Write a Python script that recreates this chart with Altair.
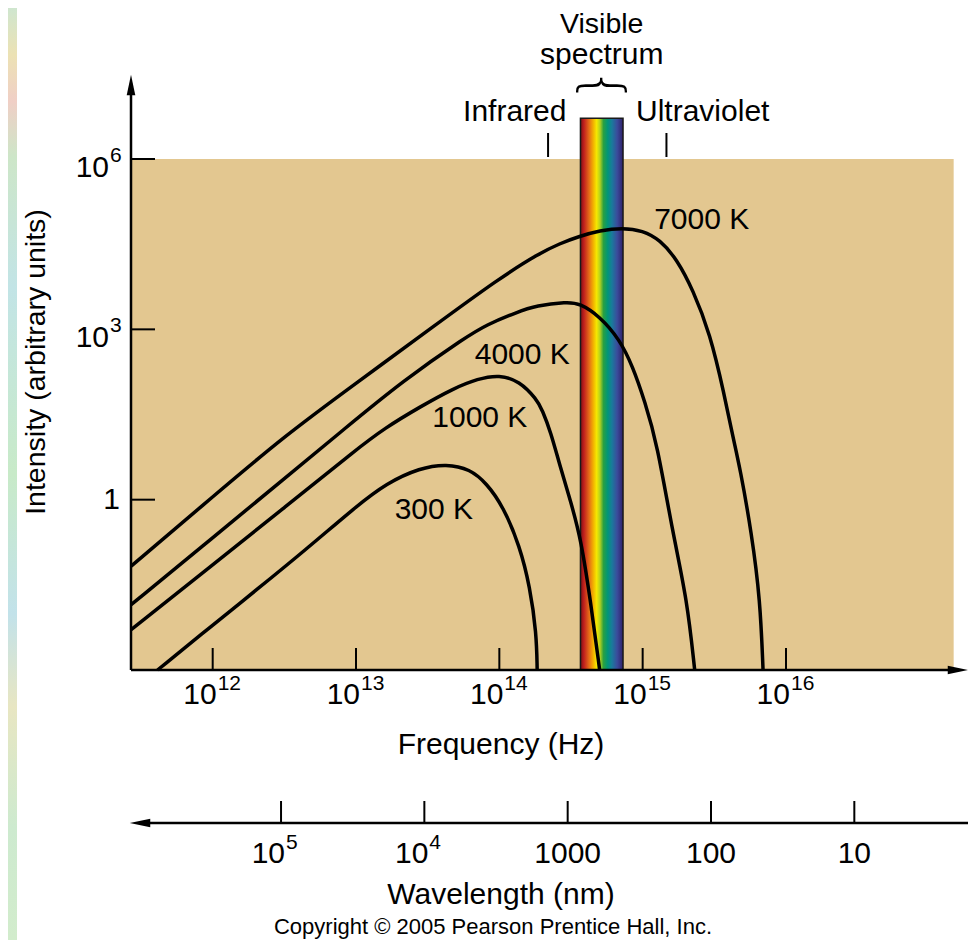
import altair as alt
import pandas as pd

# ---------------- data (log10 values) ----------------
# frequency exponent (log10 Hz) and intensity exponent (log10 arbitrary units)
t300_logf = [11.615, 12.0, 12.3, 12.65, 13.0, 13.213, 13.446, 13.632, 13.794, 13.911, 14.027, 14.143, 14.213, 14.259, 14.264]
t300_logI = [-3.0, -2.21, -1.60, -0.88, -0.12, 0.29, 0.56, 0.63, 0.54, 0.29, -0.12, -0.82, -1.53, -2.35, -3.0]

t1000_logf = [11.431, 12.0, 12.5, 13.0, 13.2, 13.45, 13.68, 13.85, 14.0, 14.14, 14.26, 14.30, 14.36, 14.42, 14.5, 14.57, 14.64, 14.70]
t1000_logI = [-2.29, -1.15, -0.14, 0.88, 1.26, 1.64, 1.96, 2.13, 2.20, 2.09, 1.77, 1.58, 1.18, 0.62, -0.05, -0.70, -1.85, -3.0]

t4000_logf = [11.431, 12.0, 12.5, 12.911, 13.33, 13.77, 13.91, 14.12, 14.26, 14.47, 14.56, 14.70, 14.84, 14.93, 15.015, 15.1, 15.21, 15.31, 15.363]
t4000_logI = [-1.85, -0.67, 0.37, 1.23, 2.10, 2.87, 3.08, 3.30, 3.42, 3.48, 3.46, 3.23, 2.82, 2.35, 1.73, 1.0, -0.59, -1.76, -3.0]

t7000_logf = [11.431, 12.0, 12.5, 13.0, 13.54, 14.0, 14.28, 14.42, 14.56, 14.70, 14.86, 15.0, 15.12, 15.24, 15.35, 15.47, 15.57, 15.63, 15.68, 15.76, 15.82, 15.84]
t7000_logI = [-1.17, 0.05, 1.12, 2.05, 3.05, 3.90, 4.34, 4.51, 4.64, 4.74, 4.79, 4.74, 4.58, 4.23, 3.70, 2.93, 1.85, 1.10, 0.55, -0.59, -1.76, -3.0]

curve_names = ["300 K", "1000 K", "4000 K", "7000 K"]
label_logf = [13.543, 13.864, 14.16, 15.412]
label_logI = [-0.176, 1.444, 2.553, 4.93]

freq_tick_exp = [12, 13, 14, 15, 16]
int_tick_exp = [6, 3]
wavelength_nm = [1e5, 1e4, 1000, 100, 10]
wavelength_base = ["10", "10"]
wavelength_sup = ["5", "4"]
wavelength_plain = ["1000", "100", "10"]

visible_logf = [14.566, 14.863]     # visible band edges
visible_top_logI = 6.72
ir_uv_logf = [14.34, 15.166]        # infrared / ultraviolet marker ticks

X_DOM_LOG = [11.43, 17.27]
Y_DOM_LOG = [-3.0, 7.48]
TAN_RIGHT_LOG = 17.17
C_NM = 2.998e17

# ---------------- styling ----------------
FONT = "Liberation Sans"
TAN = "#e3c790"
W, H = 837, 595

xs = alt.Scale(type="log", domain=[10 ** X_DOM_LOG[0], 10 ** X_DOM_LOG[1]], nice=False)
ys = alt.Scale(type="log", domain=[10 ** Y_DOM_LOG[0], 10 ** Y_DOM_LOG[1]], nice=False)


def X(field):
    return alt.X(field, type="quantitative", scale=xs, axis=None)


def Y(field):
    return alt.Y(field, type="quantitative", scale=ys, axis=None)


one = pd.DataFrame({"a": [0]})

# ---------------- frames ----------------
rows = []
for name, lf, li in [("300 K", t300_logf, t300_logI), ("1000 K", t1000_logf, t1000_logI),
                     ("4000 K", t4000_logf, t4000_logI), ("7000 K", t7000_logf, t7000_logI)]:
    for a, b in zip(lf, li):
        rows.append({"T": name, "f": 10 ** a, "I": 10 ** b})
curves_df = pd.DataFrame(rows)

labels_df = pd.DataFrame({"T": curve_names, "f": [10 ** v for v in label_logf], "I": [10 ** v for v in label_logI]})

tan_df = pd.DataFrame({"x0": [10 ** X_DOM_LOG[0]], "x1": [10 ** TAN_RIGHT_LOG], "y0": [1e-3], "y1": [1e6]})
band_df = pd.DataFrame({"x0": [10 ** visible_logf[0]], "x1": [10 ** visible_logf[1]],
                        "y0": [1e-3], "y1": [10 ** visible_top_logI],
                        "xm": [10 ** ((visible_logf[0] + visible_logf[1]) / 2)]})

fticks = pd.DataFrame({"f": [10.0 ** e for e in freq_tick_exp], "base": ["10"] * len(freq_tick_exp),
                       "sup": [str(e) for e in freq_tick_exp]})
iticks = pd.DataFrame({"I": [10.0 ** e for e in int_tick_exp], "base": ["10"] * len(int_tick_exp),
                       "sup": [str(e) for e in int_tick_exp]})
iticks_all = pd.DataFrame({"I": [10.0 ** e for e in int_tick_exp] + [1.0]})
one_lab = pd.DataFrame({"I": [1.0], "t": ["1"]})

wl_df = pd.DataFrame({"lam": wavelength_nm, "f": [C_NM / v for v in wavelength_nm]})
wl_exp = pd.DataFrame({"f": [C_NM / v for v in wavelength_nm[:2]], "base": wavelength_base, "sup": wavelength_sup})
wl_plain = pd.DataFrame({"f": [C_NM / v for v in wavelength_nm[2:]], "t": wavelength_plain})

iruv = pd.DataFrame({"f": [10 ** v for v in ir_uv_logf]})
ir_lab = pd.DataFrame({"f": [10 ** visible_logf[0]], "I": [10 ** 6.83], "t": ["Infrared"]})
uv_lab = pd.DataFrame({"f": [10 ** visible_logf[1]], "I": [10 ** 6.83], "t": ["Ultraviolet"]})

# ---------------- layers ----------------
strip_grad = {"gradient": "linear", "x1": 0, "x2": 0, "y1": 0, "y2": 1,
              "stops": [{"offset": 0, "color": "#cfe6cf"}, {"offset": 0.05, "color": "#ece2b4"},
                        {"offset": 0.1, "color": "#f0cfc6"}, {"offset": 0.16, "color": "#cde6c8"},
                        {"offset": 0.3, "color": "#c2e4e6"}, {"offset": 0.5, "color": "#c8eac8"},
                        {"offset": 0.65, "color": "#c2e2ea"}, {"offset": 0.75, "color": "#e8e6c2"},
                        {"offset": 0.88, "color": "#cdeacf"}, {"offset": 1, "color": "#d2eccc"}]}
strip = alt.Chart(one).mark_rect(color=strip_grad).encode(
    x=alt.value(-123), x2=alt.value(-114), y=alt.value(-67), y2=alt.value(H + 270))

tan = alt.Chart(tan_df).mark_rect(color=TAN).encode(x=X("x0"), x2="x1", y=Y("y0"), y2="y1")

rainbow = {"gradient": "linear", "x1": 0, "x2": 1, "y1": 0, "y2": 0,
           "stops": [{"offset": 0, "color": "#7a1212"}, {"offset": 0.08, "color": "#c01e1e"},
                     {"offset": 0.2, "color": "#e46a18"}, {"offset": 0.3, "color": "#f2b000"},
                     {"offset": 0.38, "color": "#f5e800"}, {"offset": 0.46, "color": "#b0d020"},
                     {"offset": 0.54, "color": "#2aa040"}, {"offset": 0.64, "color": "#009678"},
                     {"offset": 0.74, "color": "#1a7a9c"}, {"offset": 0.86, "color": "#3a4c9c"},
                     {"offset": 1, "color": "#30206a"}]}
band = alt.Chart(band_df).mark_rect(color=rainbow, stroke="#1a1a1a", strokeWidth=1.5).encode(
    x=X("x0"), x2="x1", y=Y("y0"), y2="y1")

curves = alt.Chart(curves_df).mark_line(color="black", strokeWidth=3.5, interpolate="basis").encode(
    x=X("f"), y=Y("I"), detail="T:N", order="f:Q")

curve_labels = alt.Chart(labels_df).mark_text(font=FONT, fontSize=30, color="black",
                                              align="center", baseline="middle").encode(
    x=X("f"), y=Y("I"), text="T:N")

# axes
y_axis = alt.Chart(one).mark_rule(color="black", strokeWidth=2.5).encode(
    x=alt.value(0), y=alt.value(14), y2=alt.value(H))
x_axis = alt.Chart(one).mark_rule(color="black", strokeWidth=2.5).encode(
    x=alt.value(0), x2=alt.value(W - 14), y=alt.value(H))
up_arrow = alt.Chart(one).mark_point(shape="M0,-1L0.42,1L-0.42,1Z", filled=True, size=420,
                                     color="black", opacity=1, strokeWidth=0).encode(
    x=alt.value(0), y=alt.value(10))
right_arrow = alt.Chart(one).mark_point(shape="M1,0L-1,-0.42L-1,0.42Z", filled=True, size=420,
                                        color="black", opacity=1, strokeWidth=0).encode(
    x=alt.value(W - 10), y=alt.value(H))

x_ticks = alt.Chart(fticks).mark_rule(color="black", strokeWidth=2).encode(
    x=X("f"), y=alt.value(H - 22), y2=alt.value(H))
x_base = alt.Chart(fticks).mark_text(font=FONT, fontSize=30, align="right", baseline="middle", dx=4,
                                     color="black").encode(x=X("f"), y=alt.value(H + 25), text="base:N")
x_sup = alt.Chart(fticks).mark_text(font=FONT, fontSize=21, align="left", baseline="middle", dx=5,
                                    color="black").encode(x=X("f"), y=alt.value(H + 14), text="sup:N")

y_ticks = alt.Chart(iticks_all).mark_rule(color="black", strokeWidth=2).encode(
    y=Y("I"), x=alt.value(0), x2=alt.value(24))
y_base = alt.Chart(iticks).mark_text(font=FONT, fontSize=30, align="right", baseline="middle", dy=9,
                                     color="black").encode(y=Y("I"), x=alt.value(-22), text="base:N")
y_sup = alt.Chart(iticks).mark_text(font=FONT, fontSize=21, align="left", baseline="middle", dy=-3,
                                    color="black").encode(y=Y("I"), x=alt.value(-21), text="sup:N")
y_one = alt.Chart(one_lab).mark_text(font=FONT, fontSize=30, align="right", baseline="middle",
                                     color="black").encode(y=Y("I"), x=alt.value(-11), text="t:N")

x_title = alt.Chart(pd.DataFrame({"t": ["Frequency (Hz)"]})).mark_text(
    font=FONT, fontSize=30, align="center", baseline="middle", color="black").encode(
    x=alt.value(370), y=alt.value(670), text="t:N")
y_title = alt.Chart(pd.DataFrame({"t": ["Intensity (arbitrary units)"]})).mark_text(
    font=FONT, fontSize=28.5, align="center", baseline="middle", angle=270, color="black").encode(
    x=alt.value(-95), y=alt.value(287), text="t:N")

# visible / infrared / ultraviolet annotations
iruv_ticks = alt.Chart(iruv).mark_rule(color="black", strokeWidth=2).encode(
    x=X("f"), y=alt.value(58), y2=alt.value(82))
ir_text = alt.Chart(ir_lab).mark_text(font=FONT, fontSize=30, align="right", baseline="middle", dx=-14,
                                      color="black").encode(x=X("f"), y=Y("I"), text="t:N")
uv_text = alt.Chart(uv_lab).mark_text(font=FONT, fontSize=30, align="left", baseline="middle", dx=13,
                                      color="black").encode(x=X("f"), y=Y("I"), text="t:N")
vis1 = alt.Chart(band_df.assign(t="Visible")).mark_text(
    font=FONT, fontSize=28.5, align="center", baseline="alphabetic", color="black").encode(
    x=X("xm"), y=alt.value(33 - 75), text="t:N")
vis2 = alt.Chart(band_df.assign(t="spectrum")).mark_text(
    font=FONT, fontSize=30, align="center", baseline="middle", color="black").encode(
    x=X("xm"), y=alt.value(55 - 75), text="t:N")
brace = alt.Chart(band_df.assign(t="{")).mark_text(
    font="DejaVu Sans", fontSize=56, fontWeight=200, align="center", baseline="middle", angle=90,
    color="black").encode(x=X("xm"), y=alt.value(86 - 75), text="t:N")

# wavelength axis
WL_Y = 823 - 75
wl_line = alt.Chart(one).mark_rule(color="black", strokeWidth=2.5).encode(
    x=alt.value(12), x2=alt.value(W), y=alt.value(WL_Y))
left_arrow = alt.Chart(one).mark_point(shape="M-1,0L1,-0.42L1,0.42Z", filled=True, size=420,
                                       color="black", opacity=1, strokeWidth=0).encode(
    x=alt.value(9), y=alt.value(WL_Y))
wl_ticks = alt.Chart(wl_df).mark_rule(color="black", strokeWidth=2).encode(
    x=X("f"), y=alt.value(WL_Y - 22), y2=alt.value(WL_Y))
wl_base = alt.Chart(wl_exp).mark_text(font=FONT, fontSize=30, align="right", baseline="middle", dx=4,
                                      color="black").encode(x=X("f"), y=alt.value(WL_Y + 31), text="base:N")
wl_sup = alt.Chart(wl_exp).mark_text(font=FONT, fontSize=21, align="left", baseline="middle", dx=5,
                                     color="black").encode(x=X("f"), y=alt.value(WL_Y + 20), text="sup:N")
wl_pl = alt.Chart(wl_plain).mark_text(font=FONT, fontSize=30, align="center", baseline="middle",
                                      color="black").encode(x=X("f"), y=alt.value(WL_Y + 31), text="t:N")
wl_title = alt.Chart(pd.DataFrame({"t": ["Wavelength (nm)"]})).mark_text(
    font=FONT, fontSize=30, align="center", baseline="middle", color="black").encode(
    x=alt.value(370), y=alt.value(820), text="t:N")
copyright_t = alt.Chart(pd.DataFrame({"t": ["Copyright © 2005 Pearson Prentice Hall, Inc."]})).mark_text(
    font=FONT, fontSize=22, align="center", baseline="alphabetic", color="black").encode(
    x=alt.value(362), y=alt.value(934 - 75), text="t:N")

chart = alt.layer(
    strip, tan, band, curves, curve_labels,
    y_axis, x_axis, up_arrow, right_arrow,
    x_ticks, x_base, x_sup, y_ticks, y_base, y_sup, y_one,
    x_title, y_title,
    iruv_ticks, ir_text, uv_text, vis1, vis2, brace,
    wl_line, left_arrow, wl_ticks, wl_base, wl_sup, wl_pl, wl_title, copyright_t,
).properties(
    width=W, height=H,
    autosize=alt.AutoSizeParams(type="none"),
    padding={"left": 123, "top": 67, "right": 0, "bottom": 270},
).configure_view(stroke=None)

chart.save("out.html", embed_options={"renderer": "svg", "actions": False})
